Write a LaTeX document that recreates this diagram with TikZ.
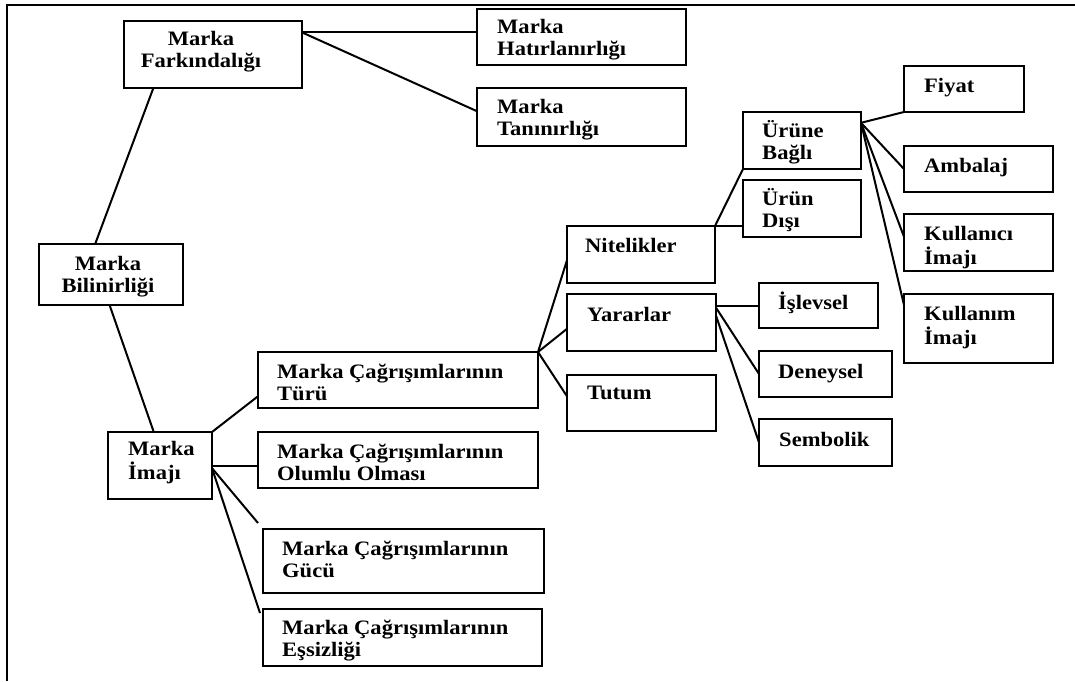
\documentclass[tikz,border=0pt]{standalone}
\usepackage{fontspec}
\setmainfont{Liberation Serif}[FakeStretch=1.1]
\usetikzlibrary{calc}

% two-line labels: left-aligned or centred, baseline on the first line
\newcommand{\twoleft}[2]{\begin{tabular}[t]{@{}l@{}}#1\\#2\end{tabular}}
\newcommand{\twomid}[2]{\begin{tabular}[t]{@{}c@{}}#1\\#2\end{tabular}}

\tikzset{
  box/.style={draw, line width=2pt, anchor=north west, inner sep=0pt, outer sep=0pt},
  lbl/.style={anchor=base west, inner sep=0pt, font=\fontsize{20.5}{22}\selectfont\bfseries},
  lblc/.style={lbl, anchor=base},
  link/.style={line width=2pt},
  frame/.style={line width=2.4pt}
}

\begin{document}
\begin{tikzpicture}[x=1pt,y=-1pt]
\useasboundingbox (0,0) rectangle (1075,681);

% frame
\coordinate (fbl) at (7,681);
\coordinate (ftl) at (7,5);
\coordinate (ftr) at (1075,5);
\draw[frame] (fbl) -- (ftl) -- (ftr);

% boxes
\node[box, minimum width=178pt, minimum height=67pt] (fark)   at (124,21)  {};
\node[box, minimum width=209pt, minimum height=56pt] (hat)    at (477,9)   {};
\node[box, minimum width=209pt, minimum height=58pt] (tan)    at (477,88)  {};
\node[box, minimum width=144pt, minimum height=61pt] (bil)    at (39,244)  {};
\node[box, minimum width=104pt, minimum height=67pt] (imaj)   at (108,432) {};
\node[box, minimum width=280pt, minimum height=56pt] (turu)   at (258,352) {};
\node[box, minimum width=280pt, minimum height=56pt] (olumlu) at (258,432) {};
\node[box, minimum width=281pt, minimum height=64pt] (gucu)   at (263,529) {};
\node[box, minimum width=279pt, minimum height=57pt] (essiz)  at (263,609) {};
\node[box, minimum width=148pt, minimum height=57pt] (nit)    at (567,226) {};
\node[box, minimum width=149pt, minimum height=57pt] (yar)    at (567,294) {};
\node[box, minimum width=149pt, minimum height=56pt] (tut)    at (567,375) {};
\node[box, minimum width=118pt, minimum height=57pt] (urune)  at (743,112) {};
\node[box, minimum width=118pt, minimum height=57pt] (urund)  at (743,180) {};
\node[box, minimum width=120pt, minimum height=46pt] (fiyat)  at (904,66)  {};
\node[box, minimum width=149pt, minimum height=46pt] (amb)    at (904,146) {};
\node[box, minimum width=149pt, minimum height=57pt] (kuli)   at (904,214) {};
\node[box, minimum width=149pt, minimum height=69pt] (kulm)   at (904,294) {};
\node[box, minimum width=119pt, minimum height=45pt] (isl)    at (759,283) {};
\node[box, minimum width=133pt, minimum height=46pt] (den)    at (759,351) {};
\node[box, minimum width=133pt, minimum height=47pt] (sem)    at (759,419) {};

% labels
\node[lblc] (t-fark)   at (201,45)    {\twomid{Marka}{Farkındalığı}};
\node[lbl]  (t-hat)    at (497,33)    {\twoleft{Marka}{Hatırlanırlığı}};
\node[lbl]  (t-tan)    at (497,113)   {\twoleft{Marka}{Tanınırlığı}};
\node[lblc] (t-bil)    at (108,270)   {\twomid{Marka}{Bilinirliği}};
\node[lbl]  (t-imaj)   at (128,455)   {\twoleft{Marka}{İmajı}};
\node[lbl]  (t-turu)   at (277,378)   {\twoleft{Marka Çağrışımlarının}{Türü}};
\node[lbl]  (t-olumlu) at (277,458)   {\twoleft{Marka Çağrışımlarının}{Olumlu Olması}};
\node[lbl]  (t-gucu)   at (282,555)   {\twoleft{Marka Çağrışımlarının}{Gücü}};
\node[lbl]  (t-essiz)  at (282,634)   {\twoleft{Marka Çağrışımlarının}{Eşsizliği}};
\node[lbl]  (t-nit)    at (585,252)   {Nitelikler};
\node[lbl]  (t-yar)    at (587,321)   {Yararlar};
\node[lbl]  (t-tut)    at (587,399)   {Tutum};
\node[lbl]  (t-urune)  at (762,137)   {\twoleft{Ürüne}{Bağlı}};
\node[lbl]  (t-urund)  at (762,205)   {\twoleft{Ürün}{Dışı}};
\node[lbl]  (t-fiyat)  at (924,92)    {Fiyat};
\node[lbl]  (t-amb)    at (924,172)   {Ambalaj};
\node[lbl]  (t-kuli)   at (924,240)   {\twoleft{Kullanıcı}{İmajı}};
\node[lbl]  (t-kulm)   at (924,320)   {\twoleft{Kullanım}{İmajı}};
\node[lbl]  (t-isl)    at (778,309)   {İşlevsel};
\node[lbl]  (t-den)    at (778,378)   {Deneysel};
\node[lbl]  (t-sem)    at (779,446)   {Sembolik};

% branching points
\coordinate (farkR)  at ($(fark.north east)!0.17!(fark.south east)$);
\coordinate (imajR)  at ($(imaj.north east)!0.54!(imaj.south east)$);
\coordinate (uruneR) at ($(urune.north east)!0.19!(urune.south east)$);
\coordinate (yarR1)  at ($(yar.north east)!0.24!(yar.south east)$);
\coordinate (yarR2)  at ($(yar.north east)!0.38!(yar.south east)$);
\coordinate (gucuE)  at ($(gucu.north west)+(-5,-6)$);
\coordinate (essizE) at ($(essiz.north west)+(-3,4)$);

% awareness branch
\draw[link] (farkR) -- (farkR -| hat.west);
\draw[link] (farkR) -- ($(tan.north west)!0.4!(tan.south west)$);
\draw[link] ($(fark.south west)!0.165!(fark.south east)$) -- ($(bil.north west)!0.39!(bil.north east)$);
\draw[link] ($(bil.south west)!0.49!(bil.south east)$) -- ($(imaj.north west)!0.44!(imaj.north east)$);

% image branch
\draw[link] (imaj.north east) -- ($(turu.north west)!0.79!(turu.south west)$);
\draw[link] (imaj.east) -- (imaj.east -| olumlu.west);
\draw[link] (imajR) -- (gucuE);
\draw[link] (imajR) -- (essizE);

% types of associations
\draw[link] (turu.north east) -- ($(nit.north west)!0.6!(nit.south west)$);
\draw[link] (turu.north east) -- ($(yar.north west)!0.61!(yar.south west)$);
\draw[link] (turu.north east) -- ($(tut.north west)!0.38!(tut.south west)$);

% attributes
\draw[link] (nit.north east) -- (urune.south west);
\draw[link] (nit.north east) -- (nit.north east -| urund.west);
\draw[link] (uruneR) -- (fiyat.south west);
\draw[link] (uruneR) -- (amb.west);
\draw[link] (uruneR) -- ($(kuli.north west)!0.4!(kuli.south west)$);
\draw[link] (uruneR) -- ($(kulm.north west)!0.16!(kulm.south west)$);

% benefits
\draw[link] (isl.west -| yar.east) -- (isl.west);
\draw[link] (yarR1) -- (den.west);
\draw[link] (yarR2) -- (sem.west);
\end{tikzpicture}
\end{document}
